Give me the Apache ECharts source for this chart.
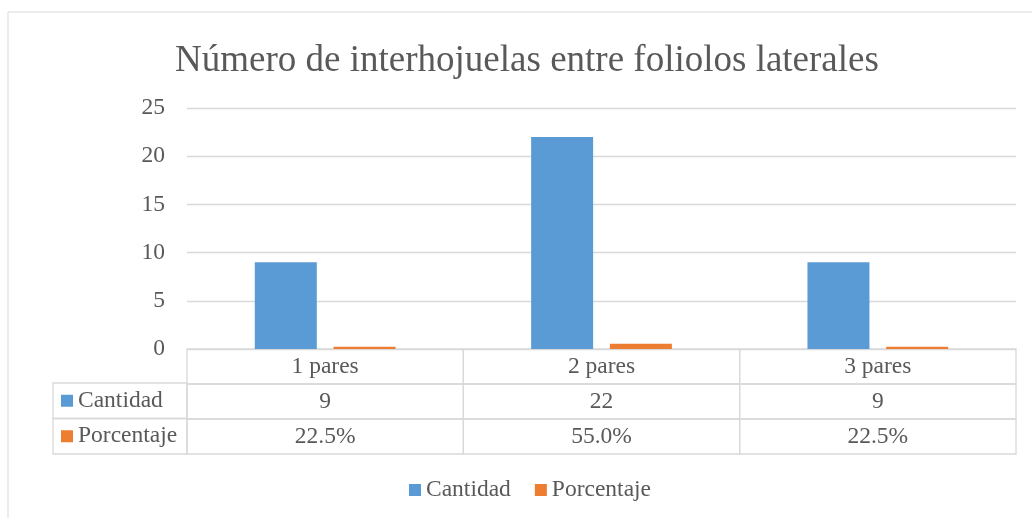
<!DOCTYPE html>
<html>
<head>
<meta charset="utf-8">
<title>Número de interhojuelas entre foliolos laterales</title>
<script src="https://cdn.jsdelivr.net/npm/echarts@6/dist/echarts.min.js"></script>
<style>
  html, body { margin: 0; padding: 0; background: #fff; }
  #chart { width: 1032px; height: 518px; }
</style>
</head>
<body>
<div id="chart"></div>
<script>
// datos
const categories = ['1 pares', '2 pares', '3 pares'];
const cantidad = [9, 22, 9];
const porcentaje = [0.225, 0.55, 0.225];
const seriesNames = ['Cantidad', 'Porcentaje'];
const colors = ['#5b9bd5', '#ed7d31'];
const yMin = 0, yMax = 25, yStep = 5;

const FONT = "'Liberation Serif', 'Times New Roman', serif";
const TEXT = '#595959';
const LINE = '#d9d9d9';

const pct = v => (v * 100).toFixed(1) + '%';

// celdas de la tabla de datos (fila 0 = categoría, 1 = cantidad, 2 = porcentaje)
const tableCells = [];
categories.forEach((c, i) => {
	tableCells.push({ col: i, row: 0, text: c });
	tableCells.push({ col: i, row: 1, text: String(cantidad[i]) });
	tableCells.push({ col: i, row: 2, text: pct(porcentaje[i]) });
});

const cellRect = (p, s) => ({
	type: 'rect',
	shape: { x: p[0] - s[0] / 2, y: p[1] - s[1] / 2, width: s[0], height: s[1] },
	style: { fill: 'none', stroke: LINE, lineWidth: 1.3 },
});

const chart = echarts.init(document.getElementById('chart'));

const option = {
	animation: false,
	backgroundColor: '#fff',
	color: colors,
	title: {
		text: 'Número de interhojuelas entre foliolos laterales',
		left: 522,
		textAlign: 'center',
		top: 38,
		textStyle: { fontFamily: FONT, fontSize: 37, fontWeight: 'normal', color: TEXT },
	},
	legend: {
		data: seriesNames,
		left: 404,
		top: 473,
		icon: 'rect',
		itemWidth: 12,
		itemHeight: 12,
		itemGap: 24,
		textStyle: { fontFamily: FONT, fontSize: 23.5, color: TEXT },
	},
	graphic: [{
		type: 'rect',
		shape: { x: 8, y: 12, width: 1060, height: 540 },
		style: { fill: 'none', stroke: LINE, lineWidth: 1 },
		silent: true,
	}],
	grid: [
		{ left: 187, right: 16, top: 108, bottom: 169 },
		{ left: 187, right: 16, top: 349, height: 105 },
		{ left: 53, width: 134, top: 383, height: 71 },
	],
	xAxis: [
		{
			gridIndex: 0, type: 'category', data: categories,
			axisLine: { show: false }, axisTick: { show: false }, axisLabel: { show: false },
		},
		{ gridIndex: 1, type: 'category', data: categories, show: false },
		{ gridIndex: 2, type: 'category', data: ['serie'], show: false },
	],
	yAxis: [
		{
			gridIndex: 0, type: 'value', min: yMin, max: yMax, interval: yStep,
			axisLine: { show: false }, axisTick: { show: false },
			axisLabel: { fontFamily: FONT, fontSize: 23.5, color: TEXT, margin: 22 },
			splitLine: { lineStyle: { color: LINE, width: 1.3 } },
		},
		{ gridIndex: 1, type: 'value', min: 0, max: 3, inverse: true, show: false },
		{ gridIndex: 2, type: 'value', min: 0, max: 2, inverse: true, show: false },
	],
	series: [
		{
			name: seriesNames[0], type: 'bar', xAxisIndex: 0, yAxisIndex: 0,
			barWidth: 62, barGap: '27%', data: cantidad,
		},
		{
			name: seriesNames[1], type: 'bar', xAxisIndex: 0, yAxisIndex: 0,
			barWidth: 62, barGap: '27%', data: porcentaje,
		},
		{
			// tabla de datos
			type: 'custom', xAxisIndex: 1, yAxisIndex: 1, silent: true,
			data: tableCells.map(c => [c.col, c.row]),
			renderItem: (params, api) => {
				const p = api.coord([api.value(0), api.value(1) + 0.5]);
				const s = api.size([1, 1]);
				return {
					type: 'group',
					children: [
						cellRect(p, s),
						{
							type: 'text', x: p[0], y: p[1],
							style: {
								text: tableCells[params.dataIndex].text,
								fontFamily: FONT, fontSize: 23.5, fill: TEXT,
								align: 'center', verticalAlign: 'middle',
							},
						},
					],
				};
			},
		},
		{
			// columna de leyenda de la tabla
			type: 'custom', xAxisIndex: 2, yAxisIndex: 2, silent: true,
			data: seriesNames.map((n, i) => [0, i]),
			renderItem: (params, api) => {
				const p = api.coord([api.value(0), api.value(1) + 0.5]);
				const s = api.size([1, 1]);
				const x0 = p[0] - s[0] / 2;
				return {
					type: 'group',
					children: [
						cellRect(p, s),
						{
							type: 'rect',
							shape: { x: x0 + 8, y: p[1] - 6, width: 12, height: 12 },
							style: { fill: colors[params.dataIndex] },
						},
						{
							type: 'text', x: x0 + 25, y: p[1],
							style: {
								text: seriesNames[params.dataIndex],
								fontFamily: FONT, fontSize: 23.5, fill: TEXT,
								align: 'left', verticalAlign: 'middle',
							},
						},
					],
				};
			},
		},
	],
};

chart.setOption(option);
</script>
</body>
</html>
